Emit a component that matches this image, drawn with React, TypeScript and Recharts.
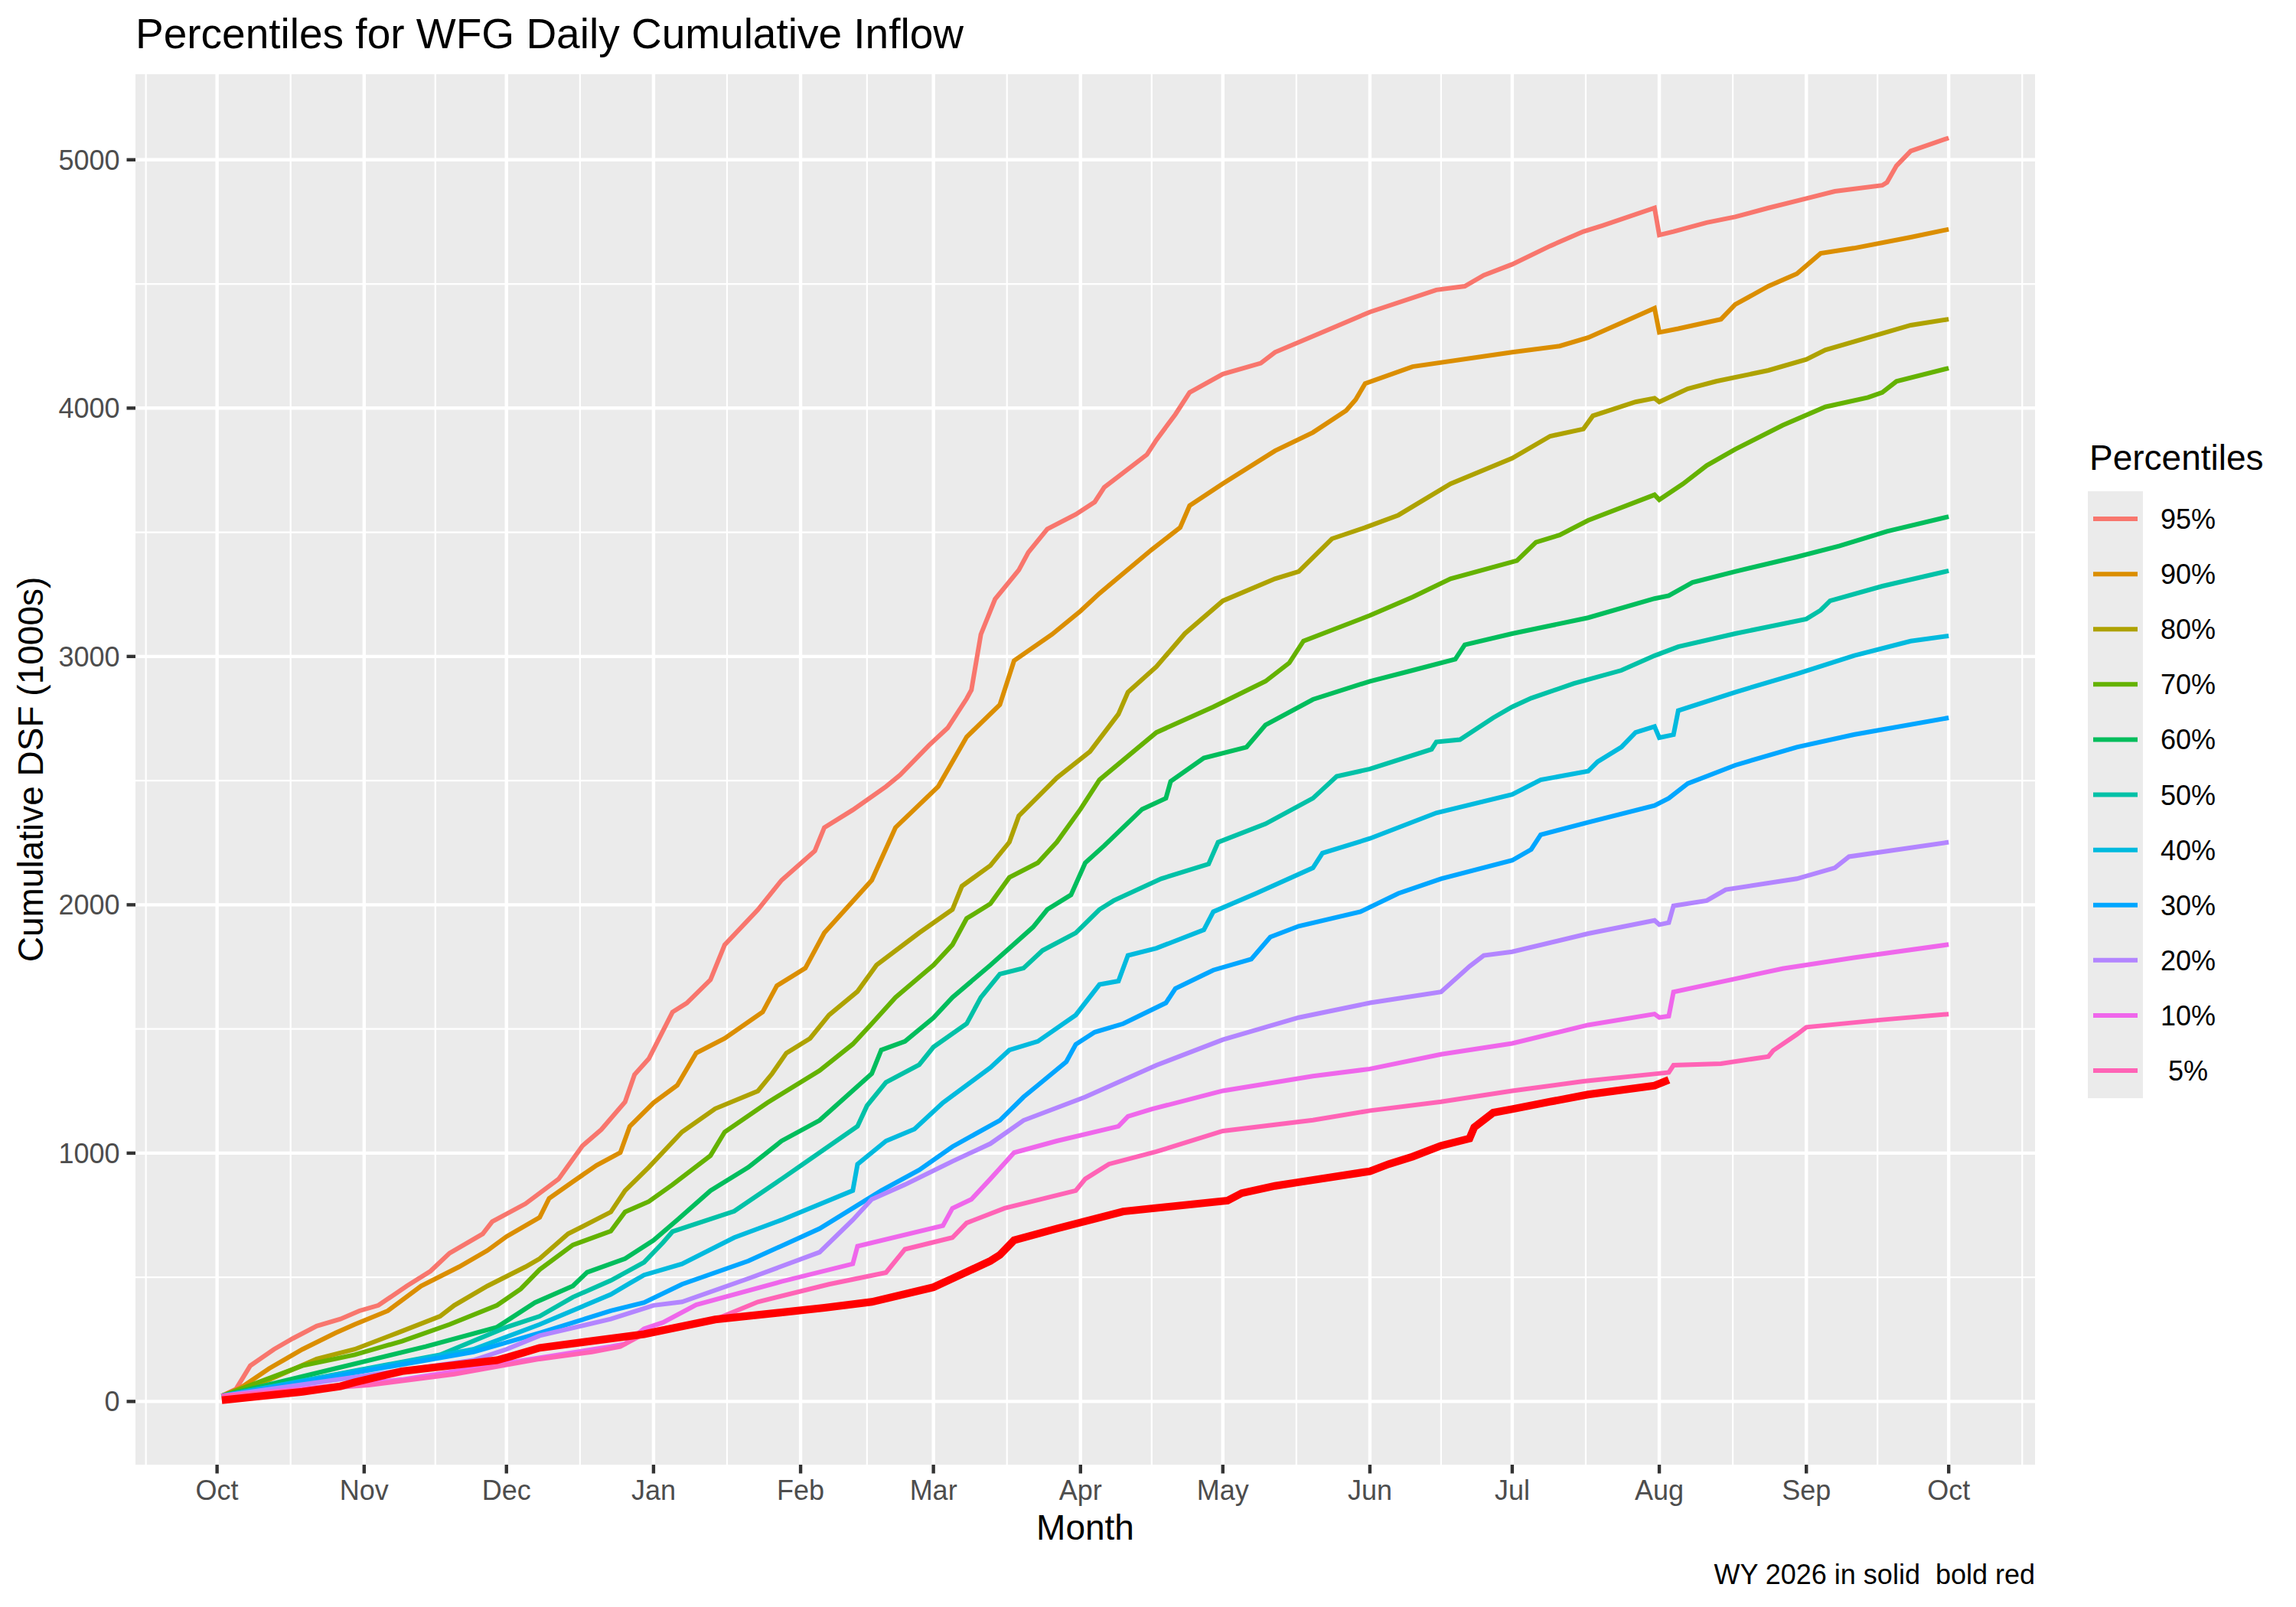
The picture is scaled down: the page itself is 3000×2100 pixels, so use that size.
import { LineChart, Line, XAxis, YAxis, CartesianGrid } from "recharts";

// [day of water year, cumulative DSF in 1000s]; day 0 = Oct 1
const p95 = [[1,22],[4,50],[7,144],[12,210],[16,254],[21,304],[26,332],[30,365],[34,387],[40,465],[45,525],[49,597],[56,675],[58,724],[65,796],[72,896],[77,1029],[81,1095],[86,1206],[88,1316],[91,1380],[96,1568],[99,1604],[104,1698],[107,1839],[114,1980],[119,2099],[126,2217],[128,2311],[134,2382],[141,2476],[144,2523],[150,2641],[154,2712],[158,2830],[159,2865],[161,3089],[164,3231],[169,3348],[171,3419],[175,3513],[181,3572],[185,3622],[187,3681],[190,3725],[196,3813],[198,3872],[202,3975],[205,4063],[212,4137],[220,4181],[223,4225],[234,4314],[243,4387],[257,4476],[263,4491],[267,4535],[273,4579],[281,4653],[288,4711],[292,4735],[303,4806],[304,4697],[307,4711],[314,4747],[320,4770],[327,4806],[335,4844],[341,4873],[351,4897],[352,4909],[354,4976],[357,5035],[365,5088]];
const p90 = [[1,22],[5,55],[11,133],[18,210],[25,276],[29,310],[36,365],[43,465],[51,542],[57,608],[61,664],[68,741],[70,818],[75,885],[80,951],[85,1002],[87,1108],[92,1203],[97,1273],[101,1403],[107,1462],[115,1568],[118,1674],[124,1745],[128,1887],[138,2099],[143,2311],[152,2476],[158,2676],[165,2806],[168,2983],[176,3089],[182,3183],[186,3254],[197,3430],[203,3519],[205,3607],[212,3696],[223,3828],[231,3902],[238,3990],[240,4034],[242,4099],[252,4167],[273,4225],[283,4250],[289,4284],[296,4343],[303,4402],[304,4305],[308,4320],[317,4358],[320,4417],[327,4491],[333,4541],[338,4623],[345,4644],[357,4688],[365,4720]];
const p80 = [[1,22],[11,88],[21,171],[29,210],[38,276],[47,343],[50,387],[57,465],[65,542],[68,575],[74,675],[83,763],[86,849],[91,943],[98,1085],[105,1179],[114,1250],[117,1320],[120,1403],[125,1462],[129,1556],[135,1651],[139,1757],[148,1887],[155,1981],[157,2075],[163,2158],[167,2252],[169,2358],[177,2511],[184,2617],[190,2768],[192,2856],[198,2959],[204,3092],[212,3224],[223,3313],[228,3342],[235,3474],[242,3519],[249,3569],[260,3695],[273,3798],[281,3887],[288,3916],[290,3969],[299,4025],[303,4040],[304,4025],[310,4078],[316,4108],[327,4152],[335,4196],[339,4234],[348,4284],[357,4334],[365,4358]];
const p70 = [[1,22],[18,144],[29,188],[39,243],[49,310],[59,387],[64,453],[68,531],[75,630],[83,686],[86,763],[91,805],[96,873],[104,990],[107,1085],[116,1203],[127,1332],[134,1439],[138,1521],[143,1627],[151,1757],[155,1839],[158,1945],[163,2004],[167,2110],[173,2169],[177,2252],[182,2385],[186,2503],[198,2694],[210,2797],[221,2900],[226,2974],[229,3062],[243,3165],[252,3239],[260,3313],[274,3386],[278,3460],[283,3489],[289,3548],[303,3651],[304,3631],[309,3695],[314,3769],[320,3834],[330,3931],[339,4005],[348,4043],[351,4063],[354,4108],[365,4161]];
const p60 = [[1,22],[25,133],[44,221],[59,299],[67,398],[75,465],[78,520],[86,575],[92,649],[97,731],[104,849],[112,943],[119,1049],[127,1132],[138,1320],[140,1415],[145,1450],[151,1545],[155,1627],[163,1757],[172,1910],[175,1981],[180,2040],[183,2169],[187,2238],[195,2385],[200,2429],[201,2497],[208,2591],[217,2635],[221,2724],[231,2827],[243,2900],[252,2944],[261,2989],[263,3047],[273,3092],[289,3156],[303,3233],[306,3245],[311,3298],[320,3342],[333,3401],[342,3445],[352,3504],[365,3563]];
const p50 = [[1,22],[47,188],[61,299],[68,343],[75,420],[83,487],[90,560],[94,640],[96,684],[109,766],[119,896],[135,1108],[137,1191],[141,1285],[148,1356],[151,1427],[158,1521],[161,1627],[165,1721],[170,1745],[174,1816],[181,1887],[186,1981],[189,2017],[199,2105],[209,2164],[211,2252],[221,2326],[231,2429],[236,2517],[243,2547],[256,2626],[257,2656],[262,2665],[269,2753],[273,2797],[277,2832],[286,2891],[296,2944],[303,3003],[308,3039],[320,3092],[335,3151],[338,3186],[340,3224],[351,3283],[365,3345]];
const p40 = [[1,22],[54,210],[68,310],[83,431],[87,476],[90,509],[98,554],[109,660],[119,731],[134,849],[135,955],[141,1049],[147,1097],[153,1203],[163,1344],[167,1415],[173,1450],[181,1556],[186,1679],[190,1693],[192,1796],[198,1825],[208,1899],[210,1972],[219,2046],[231,2149],[233,2208],[243,2267],[257,2370],[273,2444],[279,2503],[289,2538],[291,2576],[296,2635],[299,2694],[303,2718],[304,2673],[307,2685],[308,2782],[320,2856],[333,2930],[345,3003],[357,3062],[365,3083]];
const p30 = [[1,22],[54,199],[68,276],[83,365],[90,398],[98,472],[112,566],[127,696],[140,849],[148,932],[155,1026],[165,1132],[170,1226],[173,1273],[179,1368],[181,1438],[185,1487],[191,1521],[200,1605],[202,1663],[210,1737],[218,1781],[222,1870],[228,1914],[241,1972],[249,2046],[258,2105],[273,2179],[277,2223],[279,2282],[289,2332],[303,2400],[306,2429],[310,2488],[320,2562],[333,2635],[345,2685],[365,2753]];
const p20 = [[1,22],[54,166],[61,210],[68,265],[83,332],[92,387],[98,401],[112,495],[127,601],[134,731],[138,814],[145,873],[155,967],[163,1038],[170,1132],[183,1226],[198,1354],[212,1457],[228,1546],[243,1605],[258,1649],[264,1752],[267,1796],[273,1811],[289,1884],[303,1937],[304,1920],[306,1928],[307,1996],[314,2017],[318,2061],[333,2105],[341,2149],[344,2194],[365,2252]];
const p10 = [[1,22],[39,88],[61,155],[83,221],[86,232],[90,293],[94,318],[101,389],[119,483],[134,554],[135,625],[153,708],[155,778],[159,814],[163,896],[168,1002],[177,1049],[190,1108],[192,1148],[197,1177],[212,1251],[231,1310],[243,1339],[258,1398],[273,1442],[289,1516],[303,1560],[304,1546],[306,1552],[307,1649],[320,1702],[330,1743],[345,1787],[365,1840]];
const p5 = [[1,22],[32,66],[50,110],[68,171],[79,199],[85,221],[91,283],[105,330],[114,401],[129,472],[141,519],[145,613],[155,660],[158,719],[166,778],[181,849],[183,896],[188,956],[198,1006],[212,1089],[231,1133],[243,1171],[258,1207],[273,1251],[288,1289],[303,1319],[306,1325],[307,1354],[317,1360],[327,1389],[328,1413],[333,1478],[335,1507],[351,1537],[365,1560]];
const wy2026 = [[1,5],[18,39],[26,61],[29,77],[39,122],[59,166],[62,182],[68,216],[90,271],[105,330],[128,377],[138,401],[151,460],[155,495],[163,566],[165,590],[168,649],[177,696],[191,765],[213,809],[216,839],[223,868],[228,883],[243,927],[247,956],[252,986],[258,1030],[264,1059],[265,1104],[269,1163],[273,1177],[281,1207],[289,1236],[303,1272],[306,1295]];

const percentileNames = ["95%", "90%", "80%", "70%", "60%", "50%", "40%", "30%", "20%", "10%", " 5%"];
const percentileColors = ["#F8766D", "#DB8E00", "#AEA200", "#64B200", "#00BD5C", "#00C1A7", "#00BADE", "#00A6FF", "#B385FF", "#EF67EB", "#FF63B6"];
const percentileSeries = [p95, p90, p80, p70, p60, p50, p40, p30, p20, p10, p5];

const monthTicks = [0, 31, 61, 92, 123, 151, 182, 212, 243, 273, 304, 335, 365];
const monthLabels = ["Oct", "Nov", "Dec", "Jan", "Feb", "Mar", "Apr", "May", "Jun", "Jul", "Aug", "Sep", "Oct"];
const minorDays = [-15, 15.5, 46, 76.5, 107.5, 137, 166.5, 197, 227.5, 258, 288.5, 319.5, 350, 380.5];
const yTicks = [0, 1000, 2000, 3000, 4000, 5000];
const yMinor = [500, 1500, 2500, 3500, 4500];

const W = 3000;
const H = 2100;
const PLOT = { left: 177, right: 2659, top: 97, bottom: 1914 };
const FONT = "'Liberation Sans', Arial, sans-serif";

const toPoints = (s: number[][]) => s.map(([d, v]) => ({ d, v }));

const Legend = () => {
  const keyTop = 642;
  const keyH = 72.1;
  return (
    <g fontFamily={FONT}>
      <text x={2730} y={614} fontSize={46} fill="#000">
        Percentiles
      </text>
      <rect x={2728} y={keyTop} width={72} height={keyH * percentileNames.length} fill="#EBEBEB" />
      {percentileNames.map((name, i) => {
        const cy = keyTop + keyH * i + keyH / 2;
        return (
          <g key={name}>
            <line x1={2735} x2={2793} y1={cy} y2={cy} stroke={percentileColors[i]} strokeWidth={6} />
            <text x={2823} y={cy} dy="0.36em" fontSize={36} fill="#000" style={{ whiteSpace: "pre" }}>
              {name}
            </text>
          </g>
        );
      })}
    </g>
  );
};

const App = () => {
  return (
    <div style={{ position: "absolute", left: 0, top: 0, width: W, height: H, background: "#fff" }}>
      <LineChart
        width={W}
        height={H}
        margin={{ top: PLOT.top, right: W - PLOT.right, bottom: 0, left: 0 }}
      >
        <CartesianGrid
          fill="#EBEBEB"
          fillOpacity={1}
          stroke="#FFFFFF"
          strokeWidth={2.2}
          horizontalValues={yMinor}
          verticalValues={minorDays}
        />
        <CartesianGrid
          stroke="#FFFFFF"
          strokeWidth={4.4}
          horizontalValues={yTicks}
          verticalValues={monthTicks}
        />
        <XAxis
          type="number"
          dataKey="d"
          domain={[-17.2, 383.2]}
          allowDataOverflow
          ticks={monthTicks}
          interval={0}
          tickFormatter={(v: number) => monthLabels[monthTicks.indexOf(v)] ?? ""}
          height={H - PLOT.bottom}
          axisLine={false}
          tickSize={11.5}
          tickMargin={9}
          tickLine={{ stroke: "#333333", strokeWidth: 4.4 }}
          tick={{ fontSize: 36, fill: "#4D4D4D", fontFamily: FONT }}
        />
        <YAxis
          type="number"
          domain={[-254.5, 5344.5]}
          allowDataOverflow
          ticks={yTicks}
          interval={0}
          width={PLOT.left}
          axisLine={false}
          tickSize={11.5}
          tickMargin={9}
          tickLine={{ stroke: "#333333", strokeWidth: 4.4 }}
          tick={{ fontSize: 36, fill: "#4D4D4D", fontFamily: FONT }}
        />
        {percentileSeries.map((s, i) => (
          <Line
            key={percentileNames[i]}
            data={toPoints(s)}
            dataKey="v"
            type="linear"
            stroke={percentileColors[i]}
            strokeWidth={6}
            dot={false}
            activeDot={false}
            isAnimationActive={false}
          />
        ))}
        <Line
          data={toPoints(wy2026)}
          dataKey="v"
          type="linear"
          stroke="#FF0000"
          strokeWidth={10}
          dot={false}
          activeDot={false}
          isAnimationActive={false}
        />
      </LineChart>
      <svg
        width={W}
        height={H}
        style={{ position: "absolute", left: 0, top: 0, pointerEvents: "none" }}
      >
        <text x={PLOT.left} y={63} fontSize={55} fontFamily={FONT} fill="#000">
          Percentiles for WFG Daily Cumulative Inflow
        </text>
        <text
          x={56}
          y={(PLOT.top + PLOT.bottom) / 2}
          fontSize={46}
          fontFamily={FONT}
          fill="#000"
          textAnchor="middle"
          transform={`rotate(-90 56 ${(PLOT.top + PLOT.bottom) / 2})`}
        >
          Cumulative DSF (1000s)
        </text>
        <text x={(PLOT.left + PLOT.right) / 2} y={2012} fontSize={46} fontFamily={FONT} fill="#000" textAnchor="middle">
          Month
        </text>
        <text x={PLOT.right} y={2070} fontSize={36} fontFamily={FONT} fill="#000" textAnchor="end" style={{ whiteSpace: "pre" }}>
          WY 2026 in solid  bold red
        </text>
        <Legend />
      </svg>
    </div>
  );
};

export default App;
